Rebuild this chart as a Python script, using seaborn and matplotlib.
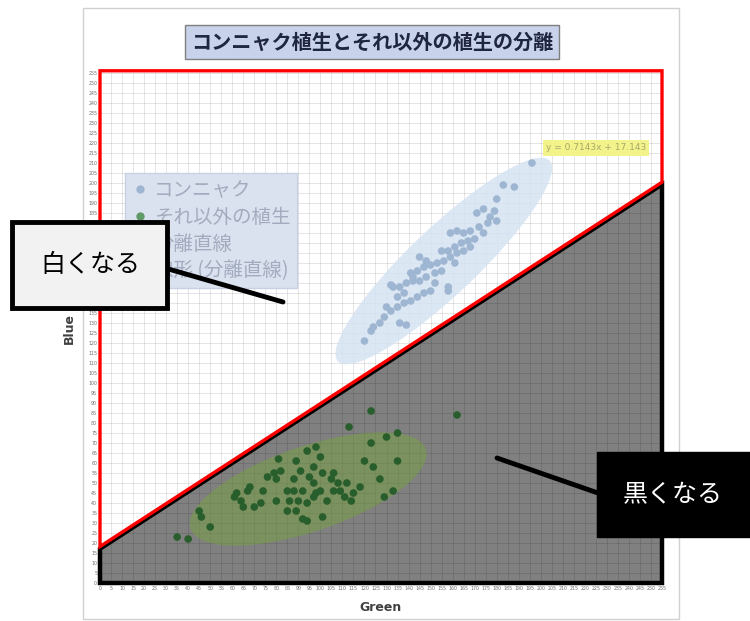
import matplotlib
matplotlib.use('Agg')
import matplotlib.pyplot as plt
import matplotlib.transforms as mtransforms
from matplotlib.patches import Polygon, Ellipse, Rectangle
from matplotlib.lines import Line2D
import pandas as pd
import seaborn as sns

# ---------------- data ----------------
konjac_green = [196, 183, 188, 180, 174, 171, 179, 180, 176, 172, 168, 165, 162, 174, 170,
                167, 164, 161, 158, 155, 168, 165, 162, 159, 156, 153, 150, 147, 144, 141,
                155, 152, 148, 145, 142, 139, 136, 133, 132, 158, 158, 150, 147, 144, 141,
                138, 135, 132, 129, 127, 124, 123, 136, 139, 120, 145, 148, 142, 138, 135,
                130, 159, 177, 161, 152]
konjac_blue = [210, 199, 198, 192, 187, 185, 186, 181, 180, 178, 176, 175, 176, 175, 172,
               171, 170, 168, 166, 166, 168, 166, 165, 163, 161, 160, 159, 158, 156, 155,
               156, 155, 153, 151, 151, 150, 148, 148, 149, 148, 146, 146, 145, 143, 141,
               140, 138, 136, 133, 130, 128, 126, 130, 129, 121, 163, 161, 153, 145, 143,
               138, 175, 183, 160, 150]

other_green = [35, 40, 50, 45, 46, 61, 64, 67, 68, 70, 73, 74, 76, 79, 80, 82, 81, 85, 86,
               88, 89, 91, 94, 92, 94, 95, 97, 98, 98, 100, 100, 101, 103, 105, 106, 108,
               109, 111, 112, 114, 115, 118, 120, 123, 124, 127, 129, 130, 133, 135, 135,
               113, 123, 162, 92, 94, 85, 89, 80, 97, 88, 65, 62, 97, 101, 90, 106]
other_blue = [23, 22, 28, 36, 33, 43, 41, 46, 48, 38, 40, 46, 53, 55, 52, 56, 62, 46, 41,
              52, 61, 56, 66, 46, 40, 53, 58, 68, 45, 63, 46, 33, 41, 52, 46, 50,
              46, 43, 50, 41, 45, 48, 61, 70, 58, 52, 43, 73, 46, 75, 61,
              78, 86, 84, 32, 31, 36, 36, 41, 43, 46, 38, 45, 50, 55, 41, 55]

sep_slope = 0.7143
sep_intercept = 17.143
axis_max = 255
x_ticks = list(range(0, 256, 5))
y_ticks = list(range(0, 256, 5))

title = 'コンニャク植生とそれ以外の植生の分離'
series_names = ['コンニャク', 'それ以外の植生', '分離直線', '線形 (分離直線)']
eq_label = 'y = 0.7143x + 17.143'
x_label = 'Green'
y_label = 'Blue'
callout_white = '白くなる'
callout_black = '黒くなる'

# ---------------- style ----------------
sns.set_style('white')
plt.rcParams['font.family'] = ['Noto Sans CJK JP', 'DejaVu Sans']

c_konjac = '#9fb6d2'
c_other = '#285e2c'

df = pd.DataFrame({
    'Green': konjac_green + other_green,
    'Blue': konjac_blue + other_blue,
    'group': [series_names[0]] * len(konjac_green) + [series_names[1]] * len(other_green),
})

fig = plt.figure(figsize=(7.5, 6.21), dpi=100)
ax = fig.add_axes([100 / 750, 1 - 583 / 621, 562 / 750, 510 / 621])

ax.set_xlim(0, axis_max)
ax.set_ylim(0, axis_max)

y_left = sep_intercept
y_right = sep_slope * axis_max + sep_intercept

# dark region under the separation line
dark = Polygon([(0, 0), (0, y_left), (axis_max, y_right), (axis_max, 0)], closed=True,
               facecolor='#808080', edgecolor='none', zorder=1)
ax.add_patch(dark)
dark_edge = Polygon([(0, 0), (0, y_left), (axis_max, y_right), (axis_max, 0)], closed=True,
                    facecolor='none', edgecolor='black', lw=3.2, zorder=5, clip_on=False)
ax.add_patch(dark_edge)

# red outline for the white region (shifted slightly upward)
shift = mtransforms.ScaledTranslation(0, 1.6 / 72, fig.dpi_scale_trans)
red = Polygon([(0, y_left), (0, axis_max), (axis_max, axis_max), (axis_max, y_right)],
              closed=True, facecolor='none', edgecolor='#ff0000', lw=2.4, zorder=6,
              clip_on=False, transform=ax.transData + shift)
ax.add_patch(red)

# grid
ax.set_axisbelow(False)
ax.set_xticks(x_ticks)
ax.set_yticks(y_ticks)
ax.grid(True, color='black', alpha=0.12, lw=0.6)

# ellipses
ax.add_patch(Ellipse((156, 161), 139, 32, angle=46.6, facecolor='#d5e3f2',
                     edgecolor='none', alpha=0.85, zorder=2.6))
ax.add_patch(Ellipse((94.5, 47), 114, 42, angle=21, facecolor='#77a23f',
                     edgecolor='none', alpha=0.5, zorder=2.6))

sns.scatterplot(data=df, x='Green', y='Blue', hue='group',
                palette={series_names[0]: c_konjac, series_names[1]: c_other},
                s=30, edgecolor='none', legend=False, ax=ax, zorder=3)

for s in ax.spines.values():
    s.set_visible(False)

ax.tick_params(length=0, pad=2, labelsize=3.4, labelcolor='#707070')
ax.set_xticklabels([str(v) for v in x_ticks], family='DejaVu Sans')
ax.set_yticklabels([str(v) for v in y_ticks], family='DejaVu Sans')

ax.set_xlabel(x_label, fontsize=9, fontweight='bold', color='#404040', family='DejaVu Sans')
ax.set_ylabel(y_label, fontsize=9, fontweight='bold', color='#404040', family='DejaVu Sans')
ax.xaxis.set_label_coords(0.5, -0.035)
ax.yaxis.set_label_coords(-0.043, 0.5)

# legend
handles = [
    Line2D([], [], marker='o', ls='', color=c_konjac, ms=5),
    Line2D([], [], marker='o', ls='', color='#5f9a68', ms=5),
    Line2D([], [], color='#a3acbf', lw=1.5),
    Line2D([], [], color='#a3acbf', lw=1.5, ls=':'),
]
leg = ax.legend(handles, series_names, loc='upper left',
                bbox_to_anchor=(125 / 750, 1 - 173 / 621), bbox_transform=fig.transFigure,
                borderaxespad=0, fontsize=14, frameon=True, facecolor='#dbe2ef',
                edgecolor='#c8d0e1', framealpha=1, fancybox=False, labelspacing=0.3,
                handletextpad=0.35, handlelength=0.8, borderpad=0.35, labelcolor='#a3acbf')
leg.set_zorder(7)

# trendline equation
fig.text(596 / 750, 1 - 148 / 621, eq_label, ha='center', va='center', fontsize=6.5,
         color='#a9a96a', family='DejaVu Sans',
         bbox=dict(boxstyle='square,pad=0.35', fc='#f3f38c', ec='none'))

# title
fig.text(372 / 750, 1 - 42 / 621, title, ha='center', va='center', fontsize=14.5,
         fontweight='bold', color='#1f2740',
         bbox=dict(boxstyle='square,pad=0.3', fc='#c8d2ea', ec='#808080', lw=1.0))

# outer frame
fig.add_artist(Rectangle((83 / 750, 2 / 621), (679 - 83) / 750, (613 - 2) / 621,
                         transform=fig.transFigure, fc='none', ec='#d0d0d0', lw=1.0, zorder=1))

# callouts
fig.add_artist(Line2D([165 / 750, 283 / 750], [1 - 268 / 621, 1 - 302 / 621],
                      transform=fig.transFigure, color='black', lw=3.5, zorder=10))
fig.add_artist(Rectangle((12 / 750, 1 - 308 / 621), 155 / 750, 86 / 621,
                         transform=fig.transFigure, fc='#f2f2f2', ec='black', lw=3.5, zorder=11))
fig.text(90 / 750, 1 - 265 / 621, callout_white, ha='center', va='center', fontsize=18,
         color='black', zorder=12)

fig.add_artist(Line2D([497 / 750, 598 / 750], [1 - 458 / 621, 1 - 493 / 621],
                      transform=fig.transFigure, color='black', lw=3.5, zorder=10))
fig.add_artist(Rectangle((597 / 750, 1 - 537 / 621), 153 / 750, 85 / 621,
                         transform=fig.transFigure, fc='black', ec='black', lw=1, zorder=11))
fig.text(673 / 750, 1 - 495 / 621, callout_black, ha='center', va='center', fontsize=18,
         color='white', zorder=12)

fig.savefig('out.png', dpi=100, facecolor='white')
